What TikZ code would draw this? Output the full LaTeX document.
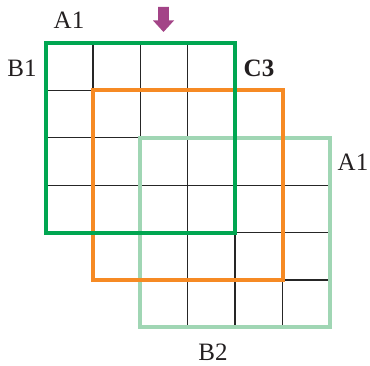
\documentclass[tikz,border=0pt]{standalone}
\usepackage{fontspec}
\setmainfont{Liberation Serif}
\definecolor{frgreen}{RGB}{0,166,81}
\definecolor{frorange}{RGB}{246,138,36}
\definecolor{frlight}{RGB}{160,214,180}
\definecolor{arrowpurple}{RGB}{163,68,135}
\definecolor{txtgray}{RGB}{35,31,32}
\begin{document}
\begin{tikzpicture}[x=1pt,y=1pt,
  gridline/.style={draw=black!85,line width=1.3pt},
  frame/.style={line width=4pt,line join=miter},
  lbl/.style={text=txtgray,font=\fontsize{25}{30}\selectfont,inner sep=0pt}]
\useasboundingbox (0,0) rectangle (370,365);
\pgfmathsetmacro{\s}{47.4}
% grids of the three squares
\foreach \k in {0,1,2}{
  \pgfmathsetmacro{\xo}{45.5+\k*\s}
  \pgfmathsetmacro{\yo}{322-\k*\s}
  \foreach \i in {1,2,3}{
    \draw[gridline] (\xo+\i*\s,\yo) -- (\xo+\i*\s,\yo-4*\s);
    \draw[gridline] (\xo,\yo-\i*\s) -- (\xo+4*\s,\yo-\i*\s);
  }
}
% frames
\draw[frame,draw=frlight] (45.5+2*\s,322-2*\s) rectangle (45.5+6*\s,322-6*\s);
\draw[frame,draw=frorange] (45.5+\s,322-\s) rectangle (45.5+5*\s,322-5*\s);
\draw[frame,draw=frgreen] (45.5,322) rectangle (45.5+4*\s,322-4*\s);
% arrow
\fill[arrowpurple] (158.2,358) -- (168.8,358) -- (168.8,344.5) -- (174,344.5)
  -- (163.5,333) -- (153,344.5) -- (158.2,344.5) -- cycle;
% labels
\node[lbl] (a1top) at (69,345) {A1};
\node[lbl] (b1) at (22,297) {B1};
\node[lbl,font=\fontsize{25}{30}\selectfont\bfseries] (c3) at (259,297) {C3};
\node[lbl] (a1right) at (353,203) {A1};
\node[lbl] (b2) at (213,13) {B2};
\end{tikzpicture}
\end{document}
